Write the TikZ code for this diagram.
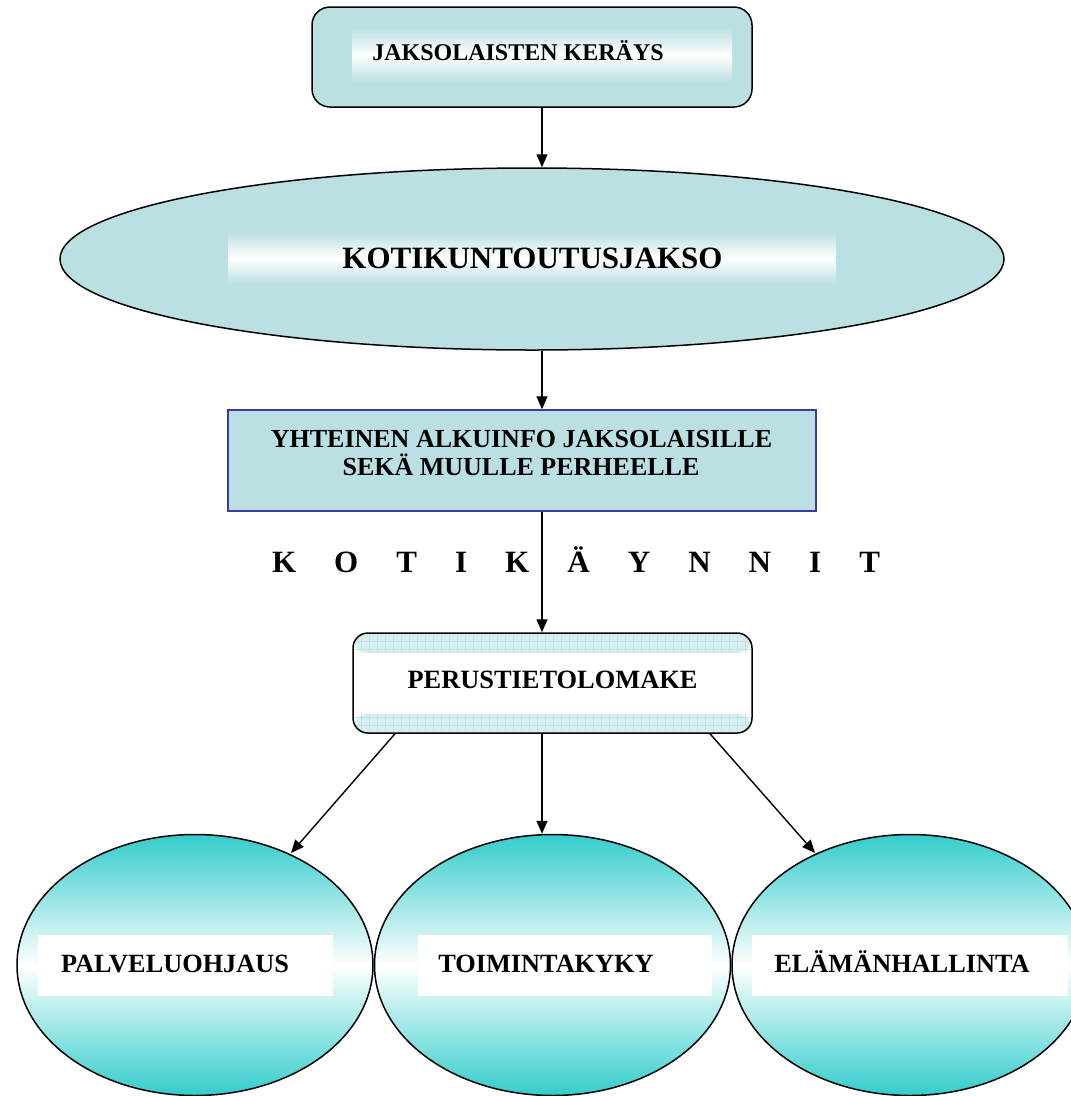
\documentclass[tikz,border=0pt]{standalone}
\usepackage{fontspec}
\setmainfont{Liberation Serif}
\usetikzlibrary{shapes.geometric,arrows.meta,calc}
\definecolor{boxcyan}{RGB}{187,224,227}
\definecolor{tealc}{RGB}{51,204,204}
\definecolor{gridbg}{RGB}{216,239,241}
\definecolor{gridln}{RGB}{190,226,230}
\definecolor{rectedge}{RGB}{60,60,160}
\tikzset{
  shapeline/.style={line width=1.5pt},
  arr/.style={line width=1.4pt,-{Triangle[length=13pt,width=11pt]}},
  lbl/.style={font=\bfseries, inner sep=0pt, anchor=base},
  band/.style={top color=boxcyan, bottom color=boxcyan, middle color=white},
  leaf/.style={ellipse, draw, shapeline, minimum width=356pt, minimum height=261pt,
    top color=tealc, bottom color=tealc, middle color=white, inner sep=0pt},
}
\begin{document}
\begin{tikzpicture}[x=1pt,y=-1pt]
\useasboundingbox[fill=white] (0,0) rectangle (1071,1096);
% top box
\node[draw, shapeline, fill=boxcyan, rounded corners=18pt, minimum width=440pt, minimum height=100pt, inner sep=0pt] (top) at (532,57) {};
\shade[band] (352,28) rectangle (732,82);
\node[lbl, font=\fontsize{24}{28}\selectfont\bfseries] (t1) at (518,60) {JAKSOLAISTEN KERÄYS};
% big ellipse
\node[ellipse, draw, shapeline, fill=boxcyan, minimum width=944pt, minimum height=182pt, inner sep=0pt] (big) at (532,259) {};
\shade[band] (228,232) rectangle (836,284);
\node[lbl, font=\fontsize{31}{36}\selectfont\bfseries] (t2) at (532.5,268) {KOTIKUNTOUTUSJAKSO};
% rectangle
\node[draw=rectedge, line width=1.5pt, fill=boxcyan, minimum width=588pt, minimum height=101pt, inner sep=0pt] (info) at (522,460.5) {};
\node[lbl, font=\fontsize{26}{28}\selectfont\bfseries] (t3a) at (521.5,447) {YHTEINEN ALKUINFO JAKSOLAISILLE};
\node[lbl, font=\fontsize{26}{28}\selectfont\bfseries] (t3b) at (521,475) {SEKÄ MUULLE PERHEELLE};
% spaced label
\node[lbl, font=\fontsize{31}{34}\selectfont\bfseries] (kk) at (576,572) {\makebox[608pt][s]{K\hfill O\hfill T\hfill I\hfill K\hfill Ä\hfill Y\hfill N\hfill N\hfill I\hfill T}};
% perustieto box
\node[draw, shapeline, fill=white, rounded corners=15pt, minimum width=399pt, minimum height=100pt, inner sep=0pt,
  path picture={
    \fill[gridbg] ($(path picture bounding box.north west)$) rectangle ($(path picture bounding box.north east)+(0,20)$);
    \fill[gridbg] ($(path picture bounding box.south west)+(0,-19)$) rectangle ($(path picture bounding box.south east)$);
    \foreach \i in {0,8,...,400} {
      \draw[gridln, line width=0.6pt] ($(path picture bounding box.north west)+(\i,0)$) -- ++(0,20);
      \draw[gridln, line width=0.6pt] ($(path picture bounding box.south west)+(\i,-19)$) -- ++(0,19);
    }
    \foreach \j in {0,8,16} {
      \draw[gridln, line width=0.6pt] ($(path picture bounding box.north west)+(0,\j)$) -- ++(400,0);
      \draw[gridln, line width=0.6pt] ($(path picture bounding box.south west)+(0,-\j)$) -- ++(400,0);
    }
  }] (pm) at (552.5,683) {};
\node[lbl, font=\fontsize{26.4}{28}\selectfont\bfseries] (t4) at (552.5,688) {PERUSTIETOLOMAKE};
% leaf ellipses
\node[leaf] (l1) at (195,965) {};
\node[leaf] (l2) at (552.5,965) {};
\node[leaf] (l3) at (910,965) {};
\fill[white] (38,935) rectangle (333,996);
\fill[white] (418,935) rectangle (712,996);
\fill[white] (752,935) rectangle (1068,996);
\node[lbl, font=\fontsize{26.3}{28}\selectfont\bfseries] (t5) at (175,972) {PALVELUOHJAUS};
\node[lbl, font=\fontsize{26.3}{28}\selectfont\bfseries] (t6) at (546,972) {TOIMINTAKYKY};
\node[lbl, font=\fontsize{26.3}{28}\selectfont\bfseries] (t7) at (902,972) {ELÄMÄNHALLINTA};
% connectors
\coordinate (spine) at (542,0);
\draw[arr] (top.south -| spine) -- (big.north -| spine);
\draw[arr] (big.south -| spine) -- (info.north -| spine);
\draw[arr] (info.south -| spine) -- (pm.north -| spine);
\draw[arr] ($(pm.south)+(-157.5,0)$) -- ($(l1.center)+(96,-112)$);
\draw[arr] (pm.south -| spine) -- (l2.north -| spine);
\draw[arr] ($(pm.south)+(157.5,0)$) -- ($(l3.center)+(-95,-112)$);
\end{tikzpicture}
\end{document}
